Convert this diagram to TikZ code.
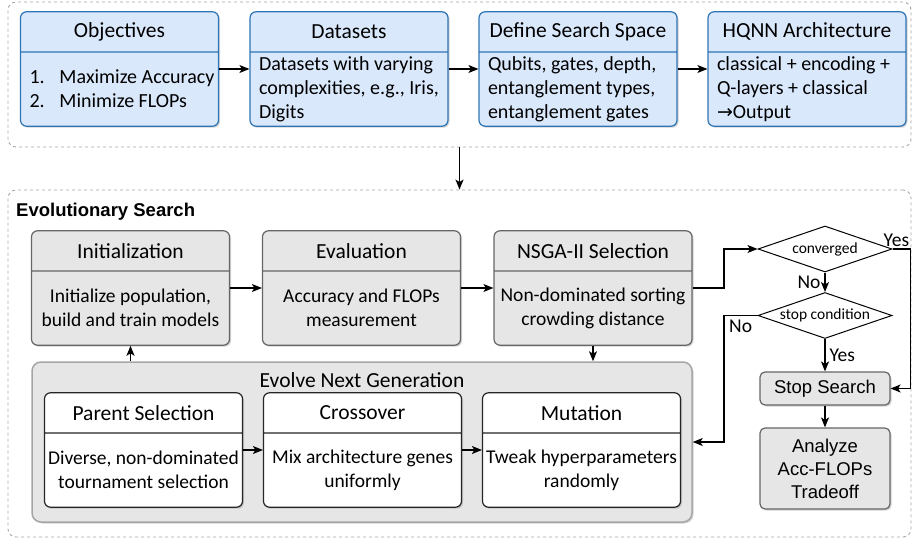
\documentclass[tikz,border=0pt]{standalone}
\usepackage{fontspec}
\setmainfont{Carlito}
\newfontfamily\arialfont{Liberation Sans}
\newfontfamily\symfont{DejaVu Sans}
\usetikzlibrary{shapes.multipart,shapes.geometric,shadows,arrows.meta}

\definecolor{bluefill}{HTML}{DAE8FC}
\definecolor{blueline}{HTML}{2E75B6}
\definecolor{grayfill}{HTML}{E6E6E6}
\definecolor{grayline}{HTML}{666666}
\definecolor{dashline}{HTML}{A6A6A6}

\newcommand{\hdr}[1]{\parbox[c][39pt][c]{196pt}{\centering\fontsize{21.5}{26}\selectfont #1}}
\newcommand{\bodyl}[1]{\parbox[c][73pt][c]{196pt}{\raggedright\leftskip=8pt\fontsize{20}{24}\selectfont #1}}
\newcommand{\bodyc}[1]{\parbox[c][73pt][c]{196pt}{\centering\fontsize{19.5}{24}\selectfont #1}}

\tikzset{
  card/.style={rectangle split, rectangle split parts=2, draw, rounded corners=6pt,
    inner xsep=1pt, inner ysep=0pt, line width=1.2pt,
    drop shadow={opacity=0.35, shadow xshift=1.5pt, shadow yshift=-1.5pt}},
  bluecard/.style={card, draw=blueline, fill=bluefill},
  graycard/.style={card, draw=grayline, fill=grayfill},
  whitecard/.style={card, draw=black!85, fill=white},
  frame/.style={draw=dashline, dashed, rounded corners=8pt, line width=0.9pt},
  evolvebox/.style={draw=black!35, fill=grayfill, rounded corners=9pt, line width=1.5pt,
    drop shadow={opacity=0.35, shadow xshift=1.5pt, shadow yshift=-1.5pt}},
  decision/.style={diamond, draw, fill=white, line width=1pt, inner sep=0pt, aspect=2.9,
    minimum width=134pt, minimum height=46pt, font=\fontsize{15.5}{18}\selectfont},
  arialbox/.style={draw=grayline, fill=grayfill, rounded corners=5pt, line width=1.2pt,
    align=center, minimum width=130pt, font=\arialfont\fontsize{18.5}{23}\selectfont,
    drop shadow={opacity=0.35, shadow xshift=1.5pt, shadow yshift=-1.5pt}},
  arr/.style={-{Stealth[length=10pt,width=8pt,inset=2.5pt]}, line width=1.2pt},
  lbl/.style={font=\fontsize{19.5}{22}\selectfont, inner sep=1pt}
}

\begin{document}
\begin{tikzpicture}[x=1pt,y=-1pt]
\useasboundingbox (0,0) rectangle (913,541);
\node[frame, minimum width=903pt, minimum height=145pt] (top) at (459.5,74.5) {};
\node[frame, minimum width=903pt, minimum height=347pt] (search) at (459.5,363.5) {};
\node[anchor=west, inner sep=0pt, font=\arialfont\bfseries\fontsize{18.5}{22}\selectfont] (evotitle) at (16,212) {Evolutionary Search};

\node[bluecard] (obj) at (119.5,69) {\hdr{Objectives}\nodepart{two}\bodyl{\makebox[30pt][l]{1.}Maximize Accuracy\\\makebox[30pt][l]{2.}Minimize FLOPs}};
\node[bluecard] (data) at (349,69) {\hdr{Datasets}\nodepart{two}\bodyl{Datasets with varying\\complexities, e.g., Iris,\\Digits}};
\node[bluecard] (space) at (578,69) {\hdr{Define Search Space}\nodepart{two}\bodyl{Qubits, gates, depth,\\entanglement types,\\entanglement gates}};
\node[bluecard] (hqnn) at (807,69) {\hdr{HQNN Architecture}\nodepart{two}\bodyl{classical + encoding +\\Q-layers + classical\\{\symfont\fontsize{19}{24}\selectfont →}Output}};
\draw[arr] (obj) -- (data);
\draw[arr] (data) -- (space);
\draw[arr] (space) -- (hqnn);
\draw[arr] (top) -- (search);

\node[graycard] (init) at (130.5,288) {\hdr{Initialization}\nodepart{two}\bodyc{Initialize population,\\build and train models}};
\node[graycard] (eval) at (361.5,288) {\hdr{Evaluation}\nodepart{two}\bodyc{Accuracy and FLOPs\\measurement}};
\node[graycard] (nsga) at (593,288) {\hdr{NSGA-II Selection}\nodepart{two}\bodyc{Non-dominated sorting\\crowding distance}};
\draw[arr] (init) -- (eval);
\draw[arr] (eval) -- (nsga);

\node[evolvebox, minimum width=660pt, minimum height=160pt] (evolve) at (362,442) {};
\node[font=\fontsize{21.5}{26}\selectfont] (evolvetitle) at (362,380) {Evolve Next Generation};
\node[whitecard] (parent) at (143.5,450) {\hdr{Parent Selection}\nodepart{two}\bodyc{Diverse, non-dominated\\tournament selection}};
\node[whitecard] (cross) at (362.5,450) {\hdr{Crossover}\nodepart{two}\bodyc{Mix architecture genes\\uniformly}};
\node[whitecard] (mut) at (581.5,450) {\hdr{Mutation}\nodepart{two}\bodyc{Tweak hyperparameters\\randomly}};
\draw[arr] (parent) -- (cross);
\draw[arr] (cross) -- (mut);
\draw[arr] (evolve.north -| init.south) -- (init.south);
\draw[arr] (nsga.south) -- (nsga.south |- evolve.north);

\node[decision] (conv) at (825,249) {converged};
\node[decision] (stopc) at (825,315.5) {stop condition};
\node[arialbox, minimum height=33pt] (stopbox) at (825,388.5) {Stop Search};
\node[arialbox, minimum height=81pt] (analyze) at (825,468.5) {Analyze\\Acc-FLOPs\\Tradeoff};
\coordinate (bend) at (724,0);
\draw[arr] (nsga.east) -- (nsga.east -| bend) |- (conv.west);
\draw[arr] (conv.south) -- node[lbl, left=3pt] (no1) {No} (stopc.north);
\draw[arr] (stopc.south) -- node[lbl, right=3pt] (yes2) {Yes} (stopbox.north);
\draw[arr] (conv.east) -- ++(18,0) |- (stopbox.east);
\node[lbl, anchor=south west] (yes1) at ([xshift=-10pt,yshift=1pt]conv.east) {Yes};
\draw[arr] (stopc.west) -- (stopc.west -| bend) |- (evolve.east);
\node[lbl, anchor=north west] (no2) at ([xshift=4pt,yshift=-3pt]stopc.west -| bend) {No};
\draw[arr] (stopbox) -- (analyze);
\end{tikzpicture}
\end{document}
